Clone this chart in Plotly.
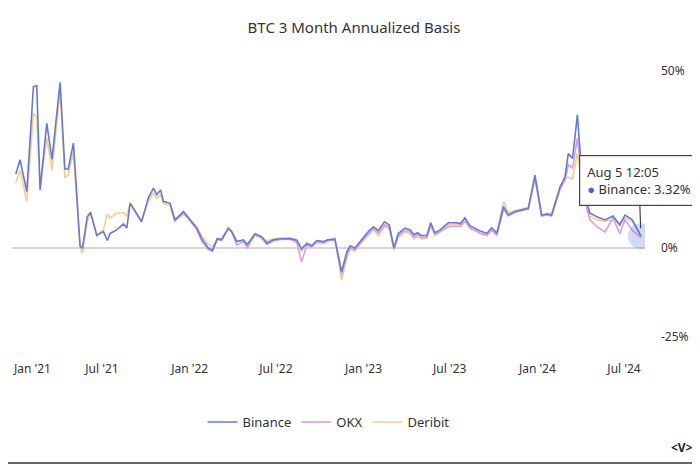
import plotly.graph_objects as go

# sample dates (roughly every 1-3 weeks, picked at the chart's vertices)
dates = [
    "2021-01-01", "2021-01-10", "2021-01-24", "2021-02-07", "2021-02-14", "2021-02-21", "2021-03-07", "2021-03-18",
    "2021-04-04", "2021-04-14", "2021-04-21", "2021-05-02", "2021-05-16", "2021-05-21", "2021-05-31", "2021-06-07",
    "2021-06-20", "2021-07-04", "2021-07-12", "2021-07-18", "2021-08-01", "2021-08-15", "2021-08-22", "2021-08-29",
    "2021-09-22", "2021-10-06", "2021-10-17", "2021-10-24", "2021-11-01", "2021-11-07", "2021-11-21", "2021-12-01",
    "2021-12-19",
    "2022-01-02", "2022-01-16", "2022-01-26", "2022-02-09", "2022-02-18", "2022-02-28", "2022-03-09", "2022-03-23",
    "2022-03-30", "2022-04-10", "2022-04-24", "2022-05-02", "2022-05-18", "2022-06-01", "2022-06-12", "2022-06-26",
    "2022-07-10", "2022-07-31", "2022-08-14", "2022-08-24", "2022-09-04", "2022-09-14", "2022-09-25", "2022-10-09",
    "2022-10-19", "2022-11-02", "2022-11-16", "2022-11-27", "2022-12-04", "2022-12-14", "2022-12-28",
    "2023-01-11", "2023-01-22", "2023-02-01", "2023-02-14", "2023-02-24", "2023-03-06", "2023-03-15", "2023-03-29",
    "2023-04-09", "2023-04-17", "2023-04-24", "2023-05-03", "2023-05-14", "2023-05-22", "2023-05-31", "2023-06-11",
    "2023-06-28", "2023-07-16", "2023-07-23", "2023-08-02", "2023-08-13", "2023-09-03", "2023-09-17", "2023-09-27",
    "2023-10-08", "2023-10-22", "2023-11-01", "2023-11-15", "2023-11-29", "2023-12-13", "2023-12-27",
    "2024-01-10", "2024-01-21", "2024-01-31", "2024-02-18", "2024-02-28", "2024-03-06", "2024-03-15", "2024-03-25",
    "2024-03-31", "2024-04-10", "2024-04-20", "2024-05-05", "2024-05-22", "2024-06-08", "2024-06-22", "2024-07-03",
    "2024-07-18", "2024-08-05 12:05",
]

# annualized basis, %
binance = [
    20.9, 24.9, 15.9, 45.6, 45.8, 16.4, 35.2, 25.0, 46.8, 22.3,
    22.3, 29.6, 0.4, 0.0, 8.8, 10.1, 3.5, 4.6, 2.1, 4.1,
    5.1, 6.8, 5.6, 12.6, 7.4, 14.0, 16.9, 15.0, 16.4, 13.1,
    12.6, 7.9, 10.3,
    7.9, 5.6, 2.7, 0.0, -0.7, 2.7, 2.3, 5.6, 4.7, 1.8,
    2.3, 0.9, 4.0, 3.2, 1.3, 2.3, 2.6, 2.7, 2.2, -0.3,
    1.3, 0.6, 2.1, 1.8, 2.4, 2.3, -6.7, -1.1, 0.6, 0.0,
    2.3,
    4.6, 6.0, 4.9, 7.4, 6.5, 0.0, 4.1, 5.6, 5.1, 3.7,
    4.3, 3.5, 3.5, 7.1, 4.3, 5.1, 7.1, 7.1, 6.8, 8.4,
    6.2, 4.8, 4.1, 5.7, 4.2, 11.7, 9.3, 10.3, 10.7, 11.2,
    20.6,
    9.3, 9.6, 9.3, 17.3, 20.1, 26.7, 25.3, 37.6, 26.7, 15.0,
    9.9, 8.8, 7.9, 9.0, 6.5, 9.3, 8.0, 3.32,
]

okx = [None] * 30 + [
    12.3, 7.8, 10.0,
    7.5, 5.2, 2.0, -0.5, -1.0, 2.5, 2.0, 5.5, 4.5, 0.8,
    1.8, 0.0, 3.8, 2.8, 1.0, 2.0, 2.4, 2.5, 1.5, -4.0,
    0.8, 0.2, 1.8, 1.5, 2.2, 2.8, -7.5, -2.0, 0.0, -0.5,
    1.8,
    4.0, 5.5, 4.2, 6.5, 6.0, -0.3, 3.5, 5.0, 4.5, 3.0,
    3.7, 3.0, 3.0, 6.5, 3.8, 4.6, 6.0, 6.2, 6.0, 7.5,
    5.5, 4.2, 3.5, 5.0, 3.5, 11.0, 9.0, 10.0, 10.5, 11.0,
    19.8,
    9.0, 9.3, 9.0, 16.8, 19.0, 23.5, 22.5, 31.0, 24.0, 13.0,
    8.0, 6.0, 4.5, 8.5, 4.0, 8.0, 5.0, 3.0,
]

deribit = [
    18.4, 22.0, 13.1, 38.0, 37.0, 17.0, 31.0, 22.0, 44.6, 20.0,
    20.5, 27.0, 0.0, -1.5, 7.5, 9.5, 3.8, 5.0, 9.5, 8.5,
    9.8, 10.0, 9.0, 12.8, 7.6, 13.0, 15.5, 14.0, 15.0, 12.5,
    12.0, 7.5, 9.5,
    8.0, 6.0, 3.5, 1.0, 0.5, 2.0, 2.8, 5.3, 4.5, 2.0,
    2.0, 1.0, 3.5, 3.0, 2.0, 2.5, 2.8, 2.3, 1.8, -1.0,
    1.0, 0.3, 1.5, 1.2, 1.8, 2.5, -9.0, -3.0, -0.5, -0.8,
    1.5,
    3.5, 5.2, 3.5, 6.0, 5.5, -0.5, 3.0, 4.5, 4.0, 2.5,
    3.2, 2.5, 2.8, 6.0, 3.5, 4.5, 6.5, 6.8, 6.5, 8.8,
    5.8, 4.0, 3.6, 4.8, 3.8, 13.1, 10.0, 10.5, 11.0, 11.5,
    19.5,
    9.0, 9.8, 9.8, 17.5, 19.5, 20.0, 19.5, 26.8, 22.0, 13.5,
    9.0, 8.0, 7.5, 8.0, 6.5, 8.5, 7.5, 3.5,
]

tick_dates = ["2021-01-01", "2021-07-01", "2022-01-01", "2022-07-01",
              "2023-01-01", "2023-07-01", "2024-01-01", "2024-07-01"]
tick_text = ["Jan '21", "Jul '21", "Jan '22", "Jul '22",
             "Jan '23", "Jul '23", "Jan '24", "Jul '24"]

font_family = "Noto Sans"
text_color = "#333333"

fig = go.Figure()

# Deribit and OKX underneath, Binance on top
fig.add_trace(go.Scatter(x=dates, y=deribit, mode="lines", name="Deribit",
                         line=dict(color="#f4cd8e", width=1.6)))
fig.add_trace(go.Scatter(x=dates, y=okx, mode="lines", name="OKX",
                         line=dict(color="#d79de6", width=1.6)))
fig.add_trace(go.Scatter(x=dates, y=binance, mode="lines", name="Binance",
                         line=dict(color="#6479d9", width=1.6)))

# hovered point highlight
fig.add_trace(go.Scatter(x=[dates[-1]], y=[binance[-1]], mode="markers",
                         marker=dict(size=26, color="rgba(95,120,216,0.28)"),
                         showlegend=False, hoverinfo="skip"))

# page body has an 8px margin, so the figure is 692x458
fig.update_layout(
    width=692, height=458,
    margin=dict(l=4, r=55, t=52, b=108),
    paper_bgcolor="white", plot_bgcolor="white",
    font=dict(family=font_family, size=12, color=text_color),
    title=dict(text="BTC 3 Month Annualized Basis", x=0.5, xanchor="center",
               y=1 - 20 / 458, yanchor="middle", yref="container",
               font=dict(size=15, color=text_color)),
    legend=dict(orientation="h", x=0.5, xanchor="center", y=-0.215, yanchor="middle",
                traceorder="reversed", font=dict(size=13, color=text_color),
                itemwidth=30),
    showlegend=True,
)

# first tick label is drawn separately, nudged right so it stays inside the card
fig.update_xaxes(
    type="date", range=["2020-12-24", "2024-08-14"],
    tickvals=tick_dates[1:], ticktext=tick_text[1:], automargin=False,
    showgrid=False, zeroline=False, showline=False,
    ticks="", ticklabelstandoff=2,
    tickfont=dict(size=12, color=text_color),
)
fig.add_annotation(
    x=tick_dates[0], xref="x", y=-10 / 298, yref="paper",
    text=tick_text[0], showarrow=False, xanchor="left", yanchor="middle", xshift=-5,
    font=dict(size=12, color=text_color, family=font_family),
)

fig.update_yaxes(
    range=[-31.1, 53.1], side="right", automargin=False,
    tickvals=[-25, 0, 50], ticktext=["-25%", "0%", "50%"],
    showgrid=False, showline=False,
    zeroline=True, zerolinecolor="#d6d6d6", zerolinewidth=2,
    ticks="", ticklabelstandoff=15,
    tickfont=dict(size=12, color=text_color),
)

# tooltip box for the last Binance point
fig.add_annotation(
    x=dates[-1], y=binance[-1], xref="x", yref="y",
    text="Aug 5 12:05<br><span style='color:#4a64d8'>●</span> Binance: 3.32%",
    align="left", showarrow=True, ax=-2, ay=-56,
    arrowhead=0, arrowwidth=1.2, arrowcolor="#444444", standoff=8,
    bgcolor="white", bordercolor="#444444", borderwidth=1.2, borderpad=7,
    font=dict(size=13, color=text_color, family=font_family),
)

fig.add_annotation(
    text="<b>&lt;V&gt;</b>", xref="paper", yref="paper",
    x=(682 - 12) / 633, y=(358 - 447) / 298, showarrow=False,
    xanchor="center", yanchor="middle",
    font=dict(size=12, color="#222222", family=font_family),
)

# bottom edge of the card
fig.add_shape(type="line", xref="paper", yref="paper",
              x0=(8 - 12) / 633, x1=(700 - 12) / 633, y0=(358 - 463) / 298, y1=(358 - 463) / 298,
              line=dict(color="#666666", width=2))

fig.write_html("out.html")
